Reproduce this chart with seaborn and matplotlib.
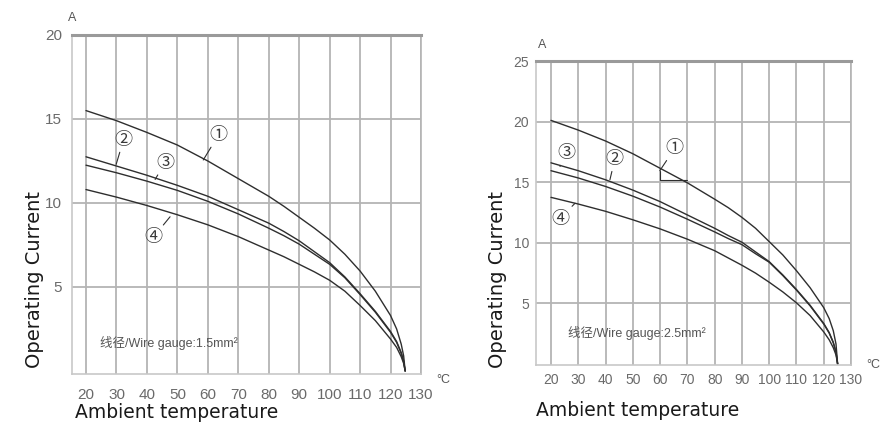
import pandas as pd
import numpy as np
import matplotlib
matplotlib.use("Agg")
import matplotlib.pyplot as plt
import seaborn as sns

# readings from the two derating charts (A vs ambient temperature in C)
temps_15 = [20, 30, 40, 50, 60, 70, 80, 85, 90, 95, 100, 105, 110, 115, 120, 122, 123.5, 124.3, 124.8]
curve1_15 = [15.5, 14.9, 14.2, 13.45, 12.5, 11.45, 10.4, 9.8, 9.15, 8.5, 7.8, 6.95, 5.95, 4.75, 3.3, 2.5, 1.6, 0.9, 0]
curve2_15 = [12.75, 12.2, 11.65, 11.05, 10.4, 9.6, 8.8, 8.3, 7.75, 7.1, 6.45, 5.6, 4.6, 3.55, 2.35, 1.75, 1.1, 0.6, 0]
curve3_15 = [12.25, 11.8, 11.3, 10.75, 10.1, 9.35, 8.5, 8.05, 7.55, 6.95, 6.35, 5.55, 4.55, 3.5, 2.3, 1.7, 1.05, 0.55, 0]
curve4_15 = [10.8, 10.35, 9.85, 9.3, 8.7, 8.0, 7.2, 6.8, 6.35, 5.9, 5.4, 4.75, 3.9, 3.0, 1.9, 1.4, 0.85, 0.45, 0]

temps_25 = [20, 30, 40, 50, 60, 70, 80, 85, 90, 95, 100, 105, 110, 115, 120, 122, 123.5, 124.5, 125.1]
curve1_25 = [20.1, 19.3, 18.4, 17.35, 16.15, 14.95, 13.6, 12.9, 12.1, 11.2, 10.1, 9.0, 7.7, 6.3, 4.65, 3.75, 2.75, 1.65, 0]
curve2_25 = [15.95, 15.35, 14.65, 13.85, 12.95, 11.95, 10.9, 10.35, 9.85, 9.1, 8.4, 7.3, 6.1, 4.8, 3.3, 2.55, 1.75, 0.95, 0]
curve3_25 = [16.6, 15.95, 15.2, 14.35, 13.4, 12.3, 11.2, 10.6, 10.05, 9.25, 8.45, 7.35, 6.15, 4.85, 3.35, 2.6, 1.8, 1.0, 0]
curve4_25 = [13.75, 13.2, 12.6, 11.9, 11.15, 10.3, 9.35, 8.75, 8.15, 7.5, 6.75, 5.95, 5.05, 4.0, 2.65, 2.0, 1.35, 0.75, 0]

curve_names = ["①", "②", "③", "④"]
x_ticks = [20, 30, 40, 50, 60, 70, 80, 90, 100, 110, 120, 130]
y_ticks_15 = [5, 10, 15, 20]
y_ticks_25 = [5, 10, 15, 20, 25]

# label position -> point on curve
labels_15 = [("①", (63.5, 14.05), (58.5, 12.56)),
             ("②", (32.3, 13.75), (29.9, 12.3)),
             ("③", (45.9, 12.4), (42.7, 11.4)),
             ("④", (42.1, 7.96), (47.6, 9.18))]
labels_25 = [("①", (65.4, 17.8), (59.9, 15.95)),
             ("③", (25.7, 17.4), (23.3, 16.3)),
             ("②", (43.4, 16.9), (41.6, 15.2)),
             ("④", (23.3, 12.0), (28.8, 13.26))]


def make_frame(temps, curves):
    rows = []
    for name, vals in zip(curve_names, curves):
        for t, v in zip(temps, vals):
            rows.append({"temp": t, "current": v, "curve": name})
    return pd.DataFrame(rows)


df15 = make_frame(temps_15, [curve1_15, curve2_15, curve3_15, curve4_15])
df25 = make_frame(temps_25, [curve1_25, curve2_25, curve3_25, curve4_25])

sns.set_style("white")
plt.rcParams['font.family'] = ['Liberation Sans', 'Noto Sans CJK SC', 'DejaVu Sans']

fig = plt.figure(figsize=(8.8, 4.26), dpi=100)
ax1 = fig.add_axes([72/880, 1-374/426, 349/880, 339/426])
ax2 = fig.add_axes([536/880, 1-365/426, 315/880, 304/426])

grid_col = "#b4b4b4"
line_col = "#2e2e2e"


def style_axis(ax, df, xlim, ylim, yticks, labels, gauge_text, gauge_pos, fs, xpad, ypad):
    sns.lineplot(data=df, x="temp", y="current", hue="curve", palette=[line_col]*4,
                 estimator=None, sort=False, legend=False, linewidth=1.0, ax=ax)
    ax.set_xlim(*xlim)
    ax.set_ylim(*ylim)
    ax.set_xticks(x_ticks)
    ax.set_yticks(yticks)
    ax.grid(True, color=grid_col, linewidth=1.3)
    ax.tick_params(length=0, labelsize=fs, labelcolor="#6a6a6a")
    ax.tick_params(axis="x", pad=xpad)
    ax.tick_params(axis="y", pad=ypad)
    ax.set_xlabel("")
    ax.set_ylabel("")
    for side in ["left", "bottom", "right"]:
        ax.spines[side].set_color("#c8c8c8")
        ax.spines[side].set_linewidth(1.2)
    ax.spines["right"].set_color(grid_col)
    ax.spines["top"].set_color("#9a9a9a")
    ax.spines["top"].set_linewidth(2.2)
    for txt, lab_xy, pt_xy in labels:
        ax.annotate(txt, xy=pt_xy, xytext=lab_xy, ha="center", va="center",
                    fontsize=13, color="#3a3a3a",
                    family=['Noto Sans CJK SC', 'DejaVu Sans'],
                    arrowprops=dict(arrowstyle="-", color=line_col, lw=0.8,
                                    shrinkA=0, shrinkB=0))
    ax.text(gauge_pos[0], gauge_pos[1], gauge_text, fontsize=9, color="#555555",
            ha="left", va="center")


style_axis(ax1, df15, (15.4, 130), (-0.18, 20), y_ticks_15, labels_15,
           "线径/Wire gauge:1.5mm²", (24.5, 1.67), 11, 10, 7)
style_axis(ax2, df25, (14.5, 130), (-0.08, 25), y_ticks_25, labels_25,
           "线径/Wire gauge:2.5mm²", (26.2, 2.55), 10, 6, 5)

# little hook under label 1 on the right chart
ax2.plot([59.9, 59.9, 69.7], [15.95, 15.18, 15.18], color=line_col, lw=0.8)

# units and axis titles
fig.text(72/880, 1-18/426, "A", fontsize=9, color="#555555", ha="center", va="center")
fig.text(542/880, 1-45/426, "A", fontsize=9, color="#555555", ha="center", va="center")
fig.text(443/880, 1-380/426, "°C", fontsize=9, color="#555555", ha="center", va="center")
fig.text(866/880, 1-365/426, "°C", fontsize=9, color="#555555", ha="left", va="center")

for xc, yc in [(35, 280), (497, 280)]:
    fig.text(xc/880, 1-yc/426, "Operating Current", rotation=90, fontsize=14,
             color="#1a1a1a", ha="center", va="center", family="DejaVu Sans")
for xc, yc in [(177, 413), (638, 410)]:
    fig.text(xc/880, 1-yc/426, "Ambient temperature", fontsize=13.5,
             color="#1a1a1a", ha="center", va="center", family="DejaVu Sans")

plt.savefig("out.png", dpi=100)
